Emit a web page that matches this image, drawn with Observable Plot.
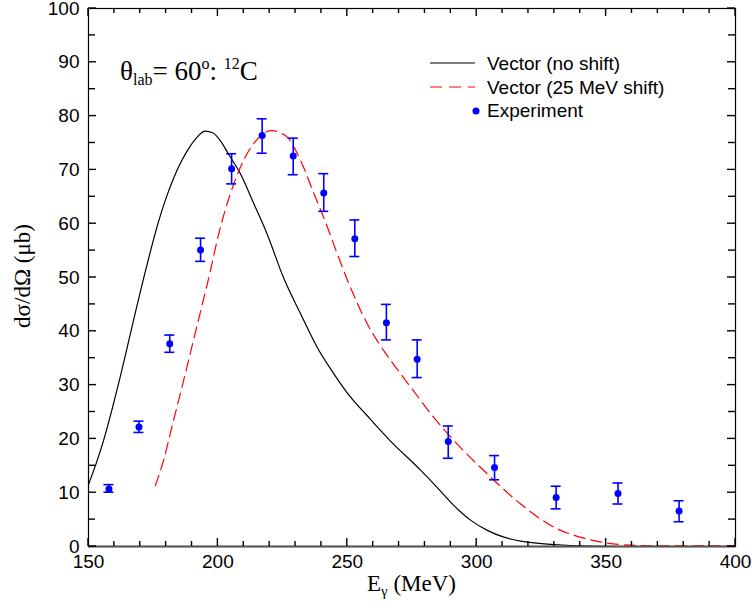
<!DOCTYPE html>
<html><head><meta charset="utf-8">
<script src="https://cdn.jsdelivr.net/npm/d3@7"></script>
<script src="https://cdn.jsdelivr.net/npm/@observablehq/plot@0.6"></script>
<style>body{margin:0;background:#fff}</style>
</head><body><div id="chart"></div>
<script>
// Experiment (E in MeV, cross section in µb, error bounds)
const expE  = [157.9,169.5,181.4,193.3,205.3,217.1,229.1,240.9,252.9,265.1,277,289,306.9,330.7,354.6,378.2];
const expV  = [10.7,22.2,37.7,55.1,70.2,76.4,72.6,65.7,57.2,41.6,34.8,19.5,14.7,9.1,9.85,6.6];
const expLo = [10.1,21.2,36.1,53,67.4,73.1,69.1,62.3,53.9,38.4,31.4,16.4,12.4,7.0,7.9,4.6];
const expHi = [11.5,23.3,39.3,57.3,73,79.5,75.9,69.3,60.7,45,38.4,22.4,16.9,11.2,11.8,8.5];
// Vector (no shift)
const noShiftE = [150,153,156,159,162,165,168,171,174,177,180,183,186,189,192,195,198,201,204,208.7,213.9,219,225.5,231.9,238.4,244.8,251.2,257.7,266.7,278.3,284.7,291.2,297.6,304.1,310.5,317,329.8,342.7,355,400];
const noShiftV = [11.5,15.5,20,25.3,31,37.1,43.3,49.3,55,60.3,64.8,68.6,71.7,74.2,76.1,77.2,76.9,75.4,73.0,69.3,63.7,58.1,49.8,43.3,37,32.1,27.8,24.3,19.6,14.2,11.0,7.6,4.9,3,1.74,1,0.37,0.06,0,0];
// Vector (25 MeV shift)
const shiftE = [175.8,179,182,185,188,191,194,197,200,203,206,209,212,215,218,221,224,226.8,232,237.1,242.3,244.2,250.5,257.7,264.1,270.6,277.5,283.4,291.2,304.1,317,329.8,342.7,355.6,370,400];
const shiftV = [11.3,16,21.8,27.5,33.3,39.2,45.1,51,57.5,62.8,67.2,70.8,73.6,75.6,76.9,77.3,76.9,76.1,71.7,65.6,59.4,56.9,49,41.4,36.4,32.1,27.7,24.0,19.7,13.5,7.9,3.6,1.4,0.37,0.1,0.1];
// Ticks
const xMajor = [150,200,250,300,350,400];
const xMinor = [160,170,180,190,210,220,230,240,260,270,280,290,310,320,330,340,360,370,380,390];
const yMajor = [0,10,20,30,40,50,60,70,80,90,100];
const yMinor = [5,15,25,35,45,55,65,75,85,95];

const exp = expE.map((e,i)=>({E:e, v:expV[i], lo:expLo[i], hi:expHi[i]}));
const noShift = noShiftE.map((e,i)=>({E:e, v:noShiftV[i]}));
const shift = shiftE.map((e,i)=>({E:e, v:shiftV[i]}));

const W=752, H=613, mL=88, mR=17, mT=8, mB=67;
const pw = W-mL-mR, ph = H-mT-mB;
const sans = "'Liberation Sans', Arial, sans-serif";
const serif = "'Liberation Serif', 'Times New Roman', serif";

const plot = Plot.plot({
  width: W, height: H,
  marginLeft: mL, marginRight: mR, marginTop: mT, marginBottom: mB,
  style: {fontSize: "19px", fontFamily: sans, background: "#fff", color: "#000", overflow: "visible"},
  x: {domain: [150,400]},
  y: {domain: [0,100]},
  marks: [
    Plot.axisX(xMajor, {tickSize: 0, tickPadding: 8, label: null, fontSize: 19, tickFormat: d=>String(d)}),
    Plot.axisY(yMajor, {tickSize: 0, tickPadding: 9, label: null, fontSize: 19, tickFormat: d=>String(d)}),
    Plot.line(noShift, {x: "E", y: "v", stroke: "#000", strokeWidth: 1.2, curve: "monotone-x"}),
    Plot.line(shift, {x: "E", y: "v", stroke: "#ff0000", strokeWidth: 1.2, strokeDasharray: "11,6", curve: "monotone-x"}),
    Plot.ruleX(exp, {x: "E", y1: "lo", y2: "hi", stroke: "#0000ff", strokeWidth: 1.6}),
    Plot.ruleY(exp, {y: "lo", x1: "E", x2: "E", insetLeft: -5, insetRight: -5, stroke: "#0000ff", strokeWidth: 1.6}),
    Plot.ruleY(exp, {y: "hi", x1: "E", x2: "E", insetLeft: -5, insetRight: -5, stroke: "#0000ff", strokeWidth: 1.6}),
    Plot.dot(exp, {x: "E", y: "v", r: 3.5, fill: "#0000ff", stroke: "none"}),
    Plot.frame({stroke: "#000", strokeWidth: 1.2}),
    Plot.ruleY([0], {stroke: "#555", strokeWidth: 2})
  ]
});
document.getElementById("chart").appendChild(plot);

const svg = d3.select(plot);
const sx = v => plot.scale("x").apply(v);
const sy = v => plot.scale("y").apply(v);
const pLeft = mL, pRight = W-mR, pTop = mT, pBottom = H-mB;

// Inward ticks on all four sides, positioned by the plot's scales
const tg = svg.append("g").attr("stroke", "#000").attr("stroke-width", 1.4).attr("fill", "none");
function xTicks(vals, len) {
  vals.forEach(v => {
    const x = sx(v);
    tg.append("line").attr("x1", x).attr("x2", x).attr("y1", pBottom).attr("y2", pBottom-len);
    tg.append("line").attr("x1", x).attr("x2", x).attr("y1", pTop).attr("y2", pTop+len);
  });
}
function yTicks(vals, len) {
  vals.forEach(v => {
    const y = sy(v);
    tg.append("line").attr("y1", y).attr("y2", y).attr("x1", pLeft).attr("x2", pLeft+len);
    tg.append("line").attr("y1", y).attr("y2", y).attr("x1", pRight).attr("x2", pRight-len);
  });
}
xTicks(xMajor, 8); xTicks(xMinor, 5);
yTicks(yMajor, 8); yTicks(yMinor, 7);

// Axis titles
const xt = svg.append("text").attr("x", mL+pw/2).attr("y", 591).attr("text-anchor","middle")
  .attr("font-family", serif).attr("font-size", 23).attr("fill","#000");
xt.append("tspan").text("E");
xt.append("tspan").attr("font-size", 15).attr("dy", 5).text("γ");
xt.append("tspan").attr("dy", -5).text(" (MeV)");

svg.append("text").attr("transform","translate(30,276) rotate(-90)").attr("text-anchor","middle")
  .attr("font-family", serif).attr("font-size", 23).attr("fill","#000").text("dσ/dΩ (μb)");

// Annotation
const an = svg.append("text").attr("x", 120).attr("y", 80).attr("text-anchor","start")
  .attr("font-family", serif).attr("font-size", 27).attr("fill","#000");
an.append("tspan").text("θ");
an.append("tspan").attr("font-size", 16).attr("dy", 5).text("lab");
an.append("tspan").attr("dy", -5).text("= 60");
an.append("tspan").attr("font-size", 16).attr("dy", -11).text("o");
an.append("tspan").attr("dy", 11).text(": ");
an.append("tspan").attr("font-size", 16).attr("dy", -11).text("12");
an.append("tspan").attr("dy", 11).text("C");

// Legend
const lg = svg.append("g").attr("font-family", sans).attr("font-size", 19).attr("fill","#000").attr("text-anchor","start");
lg.append("line").attr("x1",430).attr("x2",475).attr("y1",63).attr("y2",63).attr("stroke","#000").attr("stroke-width",1.2);
lg.append("line").attr("x1",430).attr("x2",475).attr("y1",87).attr("y2",87).attr("stroke","#ff0000").attr("stroke-width",1.2).attr("stroke-dasharray","12,7");
lg.append("circle").attr("cx",476).attr("cy",111).attr("r",3.5).attr("fill","#0000ff");
lg.append("text").attr("x",487).attr("y",70).text("Vector (no shift)");
lg.append("text").attr("x",487).attr("y",94).text("Vector (25 MeV shift)");
lg.append("text").attr("x",487).attr("y",117).text("Experiment");
</script>
</body></html>
